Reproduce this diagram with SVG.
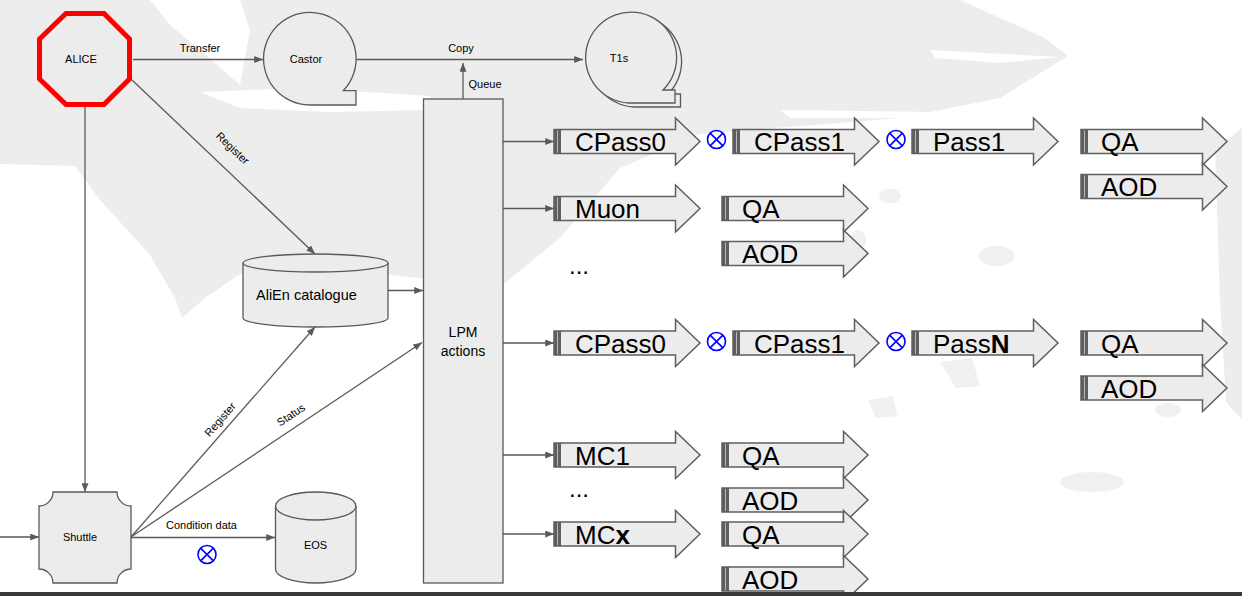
<svg xmlns="http://www.w3.org/2000/svg" xmlns:xlink="http://www.w3.org/1999/xlink" width="1242" height="596" viewBox="0 0 1242 596">
<style>
.ln{stroke:#595959;stroke-width:1.3;fill:none}
.nd{fill:#ececec;stroke:#595959;stroke-width:1.3}
.t{font-family:"Liberation Sans",Arial,sans-serif;fill:#000}
.s11{font-size:11px}
.s14{font-size:14px}
.bt{font-family:"Liberation Sans",Arial,sans-serif;font-size:26px;fill:#000}
.bg{fill:#ededed}
.bl{fill:#f0f0f0}
.wh{fill:#ffffff}
.cx{fill:none;stroke:#0000ff;stroke-width:1.6}
</style>
<defs>
<marker id="ah" viewBox="0 0 10 8" refX="10" refY="4" markerWidth="9" markerHeight="7" markerUnits="userSpaceOnUse" orient="auto">
<path d="M0,0 L10,4 L0,8 z" fill="#595959"/>
</marker>
<g id="ba">
<path d="M0,-12 H121.5 V-23.5 L146,0 L121.5,23.5 V12 H0 Z" fill="#ececec" stroke="#5f5f5f" stroke-width="1.5"/>
<rect x="0" y="-12" width="7" height="24" fill="#5f5f5f"/>
<line x1="3.5" y1="-11" x2="3.5" y2="11" stroke="#b8b8b8" stroke-width="1"/>
</g>
<g id="ox">
<circle r="9" class="cx"/>
<path d="M-6.4,-6.4 L6.4,6.4 M-6.4,6.4 L6.4,-6.4" class="cx"/>
</g>
</defs>
<rect width="1242" height="596" fill="#ffffff"/>
<g id="background">
<path class="bg" d="M0,0 H960 L1000,18 L1045,38 L1068,56 L1000,98 L900,118 L800,126 L700,134 L620,168 L560,238 L505,283 L420,278 L300,266 L240,274 L205,298 L182,318 L175,298 L150,255 L100,200 L75,166 L0,164 Z"/>
<path class="wh" d="M150,0 H240 L250,30 L240,85 L200,50 L170,25 Z"/>
<path class="wh" d="M200,92 L300,88 L430,96 L430,110 L330,112 L240,108 Z"/>
<path class="wh" d="M930,50 L1060,57 L1000,63 L935,58 Z"/>
<path class="wh" d="M780,110 L940,112 L900,118 L790,118 Z"/>
<path class="bg" d="M1215,150 L1242,128 L1242,420 L1226,402 L1220,300 Z"/>
<ellipse class="bl" cx="890" cy="196" rx="11" ry="7"/>
<ellipse class="bl" cx="997" cy="256" rx="18" ry="10"/>
<path class="bl" d="M940,362 L972,358 L980,386 L956,388 Z"/>
<path class="bl" d="M868,400 L893,396 L897,416 L876,418 Z"/>
<ellipse class="bl" cx="1168" cy="410" rx="13" ry="7"/>
<ellipse class="bl" cx="1092" cy="482" rx="32" ry="10"/>
<ellipse class="bl" cx="858" cy="240" rx="8" ry="10"/>
</g>
<g id="connectors">
<line class="ln" x1="133" y1="59.5" x2="263" y2="59.5" marker-end="url(#ah)"/>
<text class="t s11" x="200" y="52" text-anchor="middle">Transfer</text>
<line class="ln" x1="356" y1="59.5" x2="583" y2="59.5" marker-end="url(#ah)"/>
<text class="t s11" x="461" y="52" text-anchor="middle">Copy</text>
<line class="ln" x1="463" y1="99" x2="463" y2="63" marker-end="url(#ah)"/>
<text class="t s11" x="485" y="87.5" text-anchor="middle">Queue</text>
<line class="ln" x1="85" y1="107" x2="85" y2="492" marker-end="url(#ah)"/>
<line class="ln" x1="0" y1="537" x2="39" y2="537" marker-end="url(#ah)"/>
<line class="ln" x1="132" y1="80" x2="315" y2="254" marker-end="url(#ah)"/>
<text class="t s11" x="0" y="0" text-anchor="middle" transform="translate(230,151) rotate(43.6)">Register</text>
<line class="ln" x1="131" y1="537" x2="315" y2="327" marker-end="url(#ah)"/>
<text class="t s11" x="0" y="0" text-anchor="middle" transform="translate(223,422) rotate(-48.8)">Register</text>
<line class="ln" x1="131" y1="537" x2="422" y2="342.5" marker-end="url(#ah)"/>
<text class="t s11" x="0" y="0" text-anchor="middle" transform="translate(293,418) rotate(-33.8)">Status</text>
<line class="ln" x1="131" y1="537.5" x2="275" y2="537.5" marker-end="url(#ah)"/>
<text class="t s11" x="201.5" y="528.5" text-anchor="middle">Condition data</text>
<use xlink:href="#ox" href="#ox" x="207" y="554.5"/>
<line class="ln" x1="388" y1="290.5" x2="423" y2="290.5" marker-end="url(#ah)"/>
<line class="ln" x1="503" y1="141.5" x2="554" y2="141.5" marker-end="url(#ah)"/>
<line class="ln" x1="503" y1="208.5" x2="554" y2="208.5" marker-end="url(#ah)"/>
<line class="ln" x1="503" y1="343" x2="554" y2="343" marker-end="url(#ah)"/>
<line class="ln" x1="503" y1="455" x2="554" y2="455" marker-end="url(#ah)"/>
<line class="ln" x1="503" y1="534" x2="554" y2="534" marker-end="url(#ah)"/>
</g>
<g id="alice">
<path d="M66,13.5 H104 L129.5,39 V79 L104,104.5 H66 L39.5,79 V39 Z" fill="#ececec" stroke="#ff0000" stroke-width="5"/>
<text class="t s11" x="81" y="63" text-anchor="middle">ALICE</text>
</g>
<g id="castor">
<path class="nd" d="M309.7,105 A46.3,46.3 0 1 1 343.3,90.7 H356 V105 Z"/>
<text class="t s11" x="306" y="63" text-anchor="middle">Castor</text>
</g>
<g id="t1s">
<path class="nd" d="M634,107 A45.5,45.5 0 1 1 668,94 H680.5 V107 Z"/>
<path class="nd" d="M629,103 A45.5,45.5 0 1 1 663,90 H675 V103 Z"/>
<text class="t s11" x="619" y="62" text-anchor="middle">T1s</text>
</g>
<g id="lpm">
<rect class="nd" x="423.5" y="99" width="79.5" height="484"/>
<text class="t s14" x="463" y="337" text-anchor="middle">LPM</text>
<text class="t s14" x="463" y="356" text-anchor="middle">actions</text>
</g>
<g id="alien">
<path class="nd" d="M243,263 A72.5,9 0 0 1 388,263 V318 A72.5,9 0 0 1 243,318 Z"/>
<path d="M243,263 A72.5,9 0 0 0 388,263" fill="none" stroke="#595959" stroke-width="1.3"/>
<text class="t" font-size="14.5" x="256" y="300">AliEn catalogue</text>
</g>
<g id="shuttle">
<path class="nd" d="M53,492 H117 A14,14 0 0 0 131,506 V569 A14,14 0 0 0 117,583 H53 A14,14 0 0 0 39,569 V506 A14,14 0 0 0 53,492 Z"/>
<text class="t s11" x="80" y="541" text-anchor="middle">Shuttle</text>
</g>
<g id="eos">
<path class="nd" d="M275.5,506 A40.25,14 0 0 1 356,506 V569 A40.25,14 0 0 1 275.5,569 Z"/>
<path d="M275.5,506 A40.25,14 0 0 0 356,506" fill="none" stroke="#595959" stroke-width="1.3"/>
<text class="t s11" x="315.5" y="548.5" text-anchor="middle">EOS</text>
</g>
<g id="row1">
<use xlink:href="#ba" href="#ba" x="554" y="141.5"/>
<text class="bt" x="575" y="151">CPass0</text>
<use xlink:href="#ox" href="#ox" x="716.5" y="139.5"/>
<use xlink:href="#ba" href="#ba" x="733" y="141.5"/>
<text class="bt" x="754" y="151">CPass1</text>
<use xlink:href="#ox" href="#ox" x="896" y="139.5"/>
<use xlink:href="#ba" href="#ba" x="912" y="141.5"/>
<text class="bt" x="933" y="151">Pass1</text>
<use xlink:href="#ba" href="#ba" x="1081" y="141.5"/>
<text class="bt" x="1101" y="151">QA</text>
<use xlink:href="#ba" href="#ba" x="1081" y="186.5"/>
<text class="bt" x="1101" y="196">AOD</text>
</g>
<g id="row2">
<use xlink:href="#ba" href="#ba" x="554" y="208.5"/>
<text class="bt" x="575" y="218">Muon</text>
<use xlink:href="#ba" href="#ba" x="722" y="208.5"/>
<text class="bt" x="742" y="218">QA</text>
<use xlink:href="#ba" href="#ba" x="722" y="253.5"/>
<text class="bt" x="742" y="263">AOD</text>
<text class="t" font-size="24" x="569" y="274">...</text>
</g>
<g id="row3">
<use xlink:href="#ba" href="#ba" x="554" y="343"/>
<text class="bt" x="575" y="352.5">CPass0</text>
<use xlink:href="#ox" href="#ox" x="716.5" y="341.5"/>
<use xlink:href="#ba" href="#ba" x="733" y="343"/>
<text class="bt" x="754" y="352.5">CPass1</text>
<use xlink:href="#ox" href="#ox" x="896" y="341.5"/>
<use xlink:href="#ba" href="#ba" x="912" y="343"/>
<text class="bt" x="933" y="352.5">Pass<tspan font-weight="bold">N</tspan></text>
<use xlink:href="#ba" href="#ba" x="1081" y="343"/>
<text class="bt" x="1101" y="352.5">QA</text>
<use xlink:href="#ba" href="#ba" x="1081" y="388"/>
<text class="bt" x="1101" y="397.5">AOD</text>
</g>
<g id="mc1">
<use xlink:href="#ba" href="#ba" x="554" y="455"/>
<text class="bt" x="575" y="464.5">MC1</text>
<use xlink:href="#ba" href="#ba" x="722" y="455"/>
<text class="bt" x="742" y="464.5">QA</text>
<use xlink:href="#ba" href="#ba" x="722" y="500"/>
<text class="bt" x="742" y="509.5">AOD</text>
<text class="t" font-size="24" x="569" y="497">...</text>
</g>
<g id="mcx">
<use xlink:href="#ba" href="#ba" x="554" y="534"/>
<text class="bt" x="575" y="543.5">MC<tspan font-weight="bold">x</tspan></text>
<use xlink:href="#ba" href="#ba" x="722" y="534"/>
<text class="bt" x="742" y="543.5">QA</text>
<use xlink:href="#ba" href="#ba" x="722" y="579"/>
<text class="bt" x="742" y="588.5">AOD</text>
</g>
<rect id="bottombar" x="0" y="592" width="1242" height="4" fill="#3a3a3a"/>
</svg>
